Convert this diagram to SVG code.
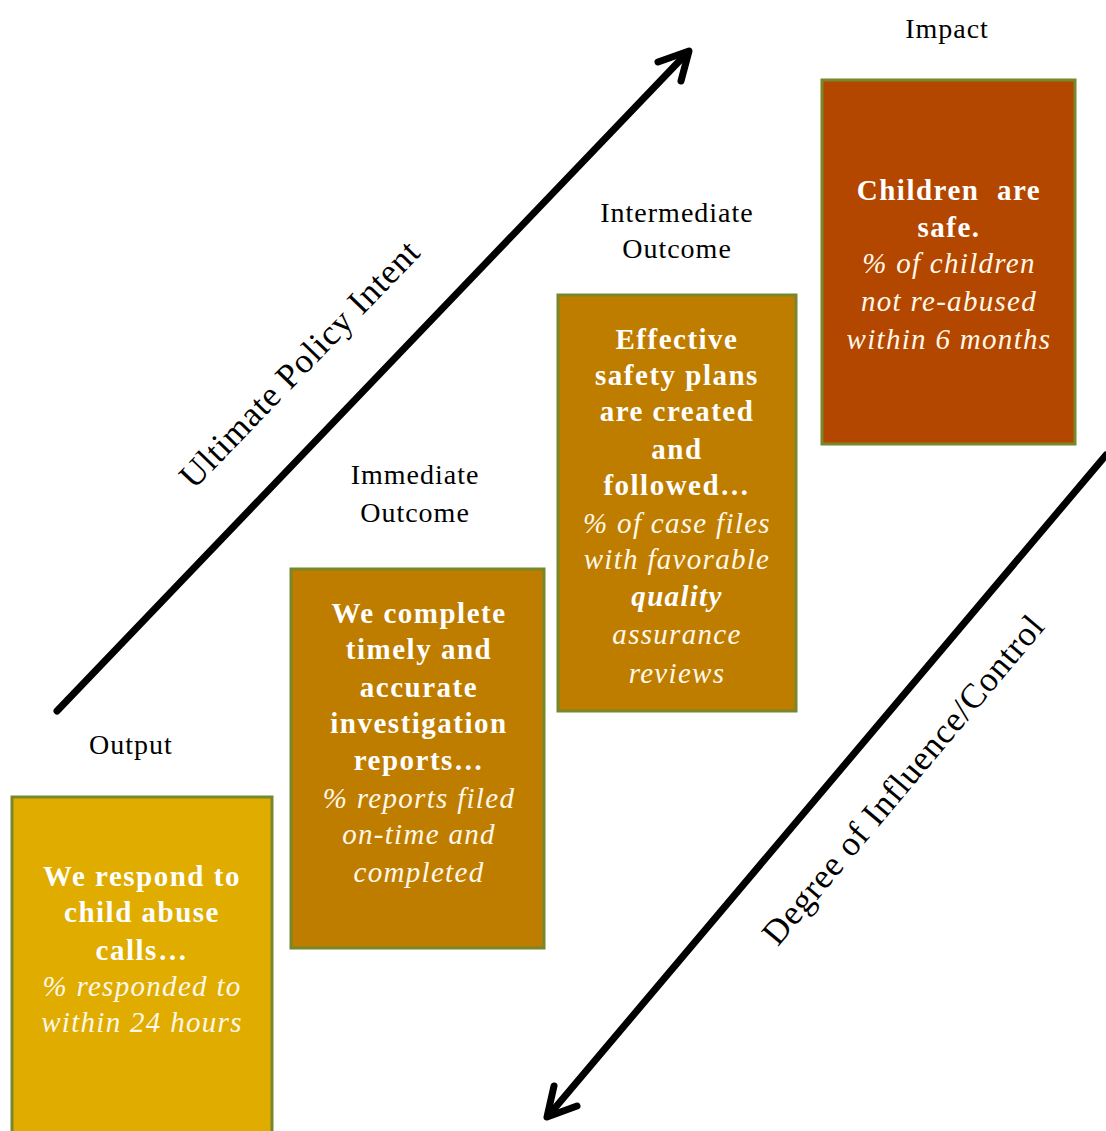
<svg xmlns="http://www.w3.org/2000/svg" width="1106" height="1131" viewBox="0 0 1106 1131">
<style>
.lbl{font-family:"Liberation Serif",serif;font-size:28px;fill:#000;text-anchor:middle;letter-spacing:1px}
.axis{font-family:"Liberation Serif",serif;font-size:35px;fill:#000;text-anchor:middle;letter-spacing:0.8px}
.b{font-family:"Liberation Serif",serif;font-size:29px;font-weight:bold;fill:#fff;text-anchor:middle;letter-spacing:1.5px}
.i{font-family:"Liberation Serif",serif;font-size:29px;font-style:italic;fill:#fff8e8;text-anchor:middle;letter-spacing:1.3px}
.bi{font-family:"Liberation Serif",serif;font-size:29px;font-style:italic;font-weight:bold;fill:#fff;text-anchor:middle;letter-spacing:1.3px}
.box{stroke:#76882a;stroke-width:3}
.ln{stroke:#000;stroke-width:7;fill:none;stroke-linecap:round;stroke-linejoin:round}
</style>
<rect width="1106" height="1131" fill="#fff"/>
<g id="connectors">
<path class="ln" d="M57,711 L687,53"/>
<path class="ln" d="M658,62 L689,51 L681,81"/>
<path class="ln" d="M1106,455 L549,1115"/>
<path class="ln" d="M554,1086 L547,1117 L577,1106"/>
</g>
<g id="axis-labels">
<text class="axis" transform="translate(308,372) rotate(-46)">Ultimate Policy Intent</text>
<text class="axis" transform="translate(912,787) rotate(-50)">Degree of Influence/Control</text>
</g>
<g id="output">
<text class="lbl" x="131" y="754">Output</text>
<rect class="box" x="12" y="797" width="260" height="340" fill="#e0ac00"/>
<text class="b" x="142" y="886">We respond to</text>
<text class="b" x="142" y="922">child abuse</text>
<text class="b" x="142" y="960">calls…</text>
<text class="i" x="142" y="996">% responded to</text>
<text class="i" x="142" y="1032">within 24 hours</text>
</g>
<g id="immediate">
<text class="lbl" x="415" y="484">Immediate</text>
<text class="lbl" x="415" y="522">Outcome</text>
<rect class="box" x="291" y="569" width="253" height="379" fill="#bf7d00"/>
<text class="b" x="419" y="623">We complete</text>
<text class="b" x="419" y="659">timely and</text>
<text class="b" x="419" y="697">accurate</text>
<text class="b" x="419" y="733">investigation</text>
<text class="b" x="419" y="770">reports…</text>
<text class="i" x="419" y="808">% reports filed</text>
<text class="i" x="419" y="844">on-time and</text>
<text class="i" x="419" y="882">completed</text>
</g>
<g id="intermediate">
<text class="lbl" x="677" y="222">Intermediate</text>
<text class="lbl" x="677" y="258">Outcome</text>
<rect class="box" x="558" y="295" width="238" height="416" fill="#bf7d00"/>
<text class="b" x="677" y="349">Effective</text>
<text class="b" x="677" y="385">safety plans</text>
<text class="b" x="677" y="421">are created</text>
<text class="b" x="677" y="459">and</text>
<text class="b" x="677" y="495">followed…</text>
<text class="i" x="677" y="533">% of case files</text>
<text class="i" x="677" y="569">with favorable</text>
<text class="bi" x="677" y="606">quality</text>
<text class="i" x="677" y="644">assurance</text>
<text class="i" x="677" y="683">reviews</text>
</g>
<g id="impact">
<text class="lbl" x="947" y="38">Impact</text>
<rect class="box" x="822" y="80" width="253" height="364" fill="#b34700"/>
<text class="b" x="949" y="200" xml:space="preserve">Children  are</text>
<text class="b" x="949" y="237">safe.</text>
<text class="i" x="949" y="273">% of children</text>
<text class="i" x="949" y="311">not re-abused</text>
<text class="i" x="949" y="349">within 6 months</text>
</g>
</svg>
